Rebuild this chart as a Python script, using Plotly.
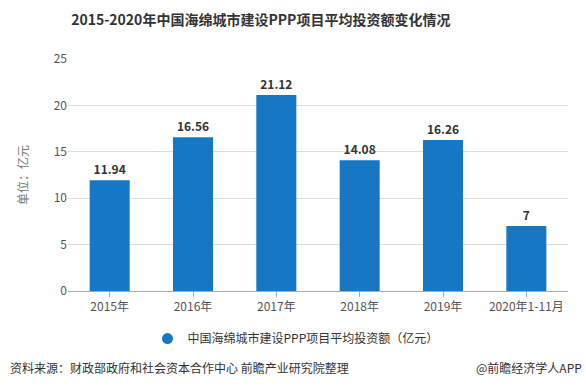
import plotly.graph_objects as go

categories = ["2015年", "2016年", "2017年", "2018年", "2019年", "2020年1-11月"]
values = [11.94, 16.56, 21.12, 14.08, 16.26, 7]
value_labels = ["11.94", "16.56", "21.12", "14.08", "16.26", "7"]
series_name = "中国海绵城市建设PPP项目平均投资额（亿元）"
title_text = "2015-2020年中国海绵城市建设PPP项目平均投资额变化情况"
y_ticks = [0, 5, 10, 15, 20, 25]

FONT = "Noto Sans CJK SC, Microsoft YaHei, sans-serif"
BAR = "#1677c4"

fig = go.Figure()
fig.add_trace(go.Bar(
    x=categories, y=values, name=series_name, showlegend=False,
    marker=dict(color=BAR, line=dict(width=0)),
    width=0.48,
    text=value_labels, textposition="outside",
    textfont=dict(family=FONT, size=12, color="#333333"),
    texttemplate="<b>%{text}</b>",
    cliponaxis=False,
))
fig.add_trace(go.Scatter(
    x=[None], y=[None], mode="markers", name=series_name,
    marker=dict(color=BAR, size=11, symbol="circle"), showlegend=True,
))

fig.update_layout(
    width=586, height=392,
    margin=dict(l=68, r=18, t=59, b=101, autoexpand=False),
    paper_bgcolor="white", plot_bgcolor="white",
    font=dict(family=FONT, size=12, color="#555555"),
    title=dict(text="<b>" + title_text + "</b>", x=0.445, xanchor="center", y=0.948, yanchor="middle",
               font=dict(family=FONT, size=14, color="#333333")),
    showlegend=True,
    legend=dict(orientation="h", x=0.455, xanchor="center", y=-0.205, yanchor="middle",
                font=dict(family=FONT, size=12, color="#333333"), itemwidth=30),
)
fig.update_xaxes(showline=True, linecolor="#aaaaaa", linewidth=1, ticks="outside",
                 tickcolor="#aaaaaa", ticklen=5, tickfont=dict(size=12, color="#555555"),
                 automargin=False)
fig.update_yaxes(range=[0, 25], tickvals=y_ticks, showgrid=True, gridcolor="#dddddd",
                 zeroline=False, tickfont=dict(size=12, color="#555555"), automargin=False,
                 title=dict(text="单位：亿元", font=dict(size=12, color="#777777"), standoff=22))
fig.add_annotation(text="资料来源：财政部政府和社会资本合作中心 前瞻产业研究院整理", xref="paper", yref="paper",
                   x=-0.12, y=-0.328, xanchor="left", yanchor="middle", showarrow=False,
                   font=dict(family=FONT, size=12, color="#333333"))
fig.add_annotation(text="@前瞻经济学人APP", xref="paper", yref="paper",
                   x=1.032, y=-0.328, xanchor="right", yanchor="middle", showarrow=False,
                   font=dict(family=FONT, size=12, color="#333333"))
fig.write_html("out.html", config={"displayModeBar": False},
               post_script="document.body.style.margin='0';")
